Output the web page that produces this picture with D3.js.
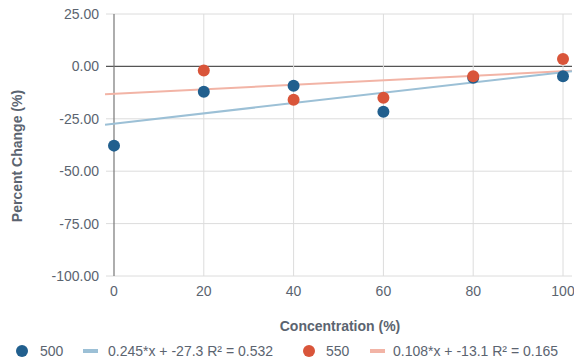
<!DOCTYPE html>
<html>
<head>
<meta charset="utf-8">
<script src="https://cdn.jsdelivr.net/npm/d3@7"></script>
<style>
  body { margin: 0; background: #fff; }
  text { font-family: "Liberation Sans", Arial, sans-serif; }
</style>
</head>
<body>
<div id="chart"></div>
<script>
// data
const concentrations = [0, 20, 40, 60, 80, 100];
const series500 = [-37.8, -12.1, -9.2, -21.6, -5.4, -4.7];
const concentrations550 = [20, 40, 60, 80, 100];
const series550 = [-1.9, -15.9, -15.0, -4.7, 3.5];
const trend500 = {slope: 0.245, intercept: -27.3, label: "0.245*x + -27.3 R\u00b2 = 0.532"};
const trend550 = {slope: 0.108, intercept: -13.1, label: "0.108*x + -13.1 R\u00b2 = 0.165"};
const yTicks = [25, 0, -25, -50, -75, -100];
const xTicks = [0, 20, 40, 60, 80, 100];

const width = 574, height = 362;
const blue = "#215f8e", red = "#d9553a";
const blueLight = "#9cc0d6", redLight = "#f2b4a6";
const textColor = "#5b6470";
const fontSize = "14px";

const svg = d3.select("#chart").append("svg")
  .attr("width", width)
  .attr("height", height);

const x = d3.scaleLinear().domain([0, 100]).range([114, 563]);
const y = d3.scaleLinear().domain([-100, 25]).range([276, 14]);

// horizontal grid
svg.append("g")
  .selectAll("line")
  .data(yTicks)
  .enter().append("line")
  .attr("x1", 106)
  .attr("x2", 572)
  .attr("y1", d => y(d))
  .attr("y2", d => y(d))
  .attr("stroke", d => d === 0 ? "#555" : "#dcdcdc")
  .attr("stroke-width", d => d === 0 ? 1.2 : 1);

// vertical grid
svg.append("g")
  .selectAll("line")
  .data(xTicks.filter(d => d !== 0))
  .enter().append("line")
  .attr("x1", d => x(d))
  .attr("x2", d => x(d))
  .attr("y1", y(25))
  .attr("y2", y(-100))
  .attr("stroke", "#dcdcdc");

// y axis line
svg.append("line")
  .attr("x1", x(0)).attr("x2", x(0))
  .attr("y1", y(25)).attr("y2", y(-100))
  .attr("stroke", "#777")
  .attr("stroke-width", 1.2);

// y tick labels (plain hyphen like the original)
svg.append("g")
  .selectAll("text")
  .data(yTicks)
  .enter().append("text")
  .attr("x", 99)
  .attr("y", d => y(d) + 5)
  .attr("text-anchor", "end")
  .style("font-size", fontSize)
  .style("fill", textColor)
  .text(d => d3.format(".2f")(d).replace("\u2212", "-"));

// x tick labels
svg.append("g")
  .selectAll("text")
  .data(xTicks)
  .enter().append("text")
  .attr("x", d => x(d))
  .attr("y", 296)
  .attr("text-anchor", "middle")
  .style("font-size", fontSize)
  .style("fill", textColor)
  .text(d => d);

// axis titles
svg.append("text")
  .attr("x", 340)
  .attr("y", 331)
  .attr("text-anchor", "middle")
  .style("font-size", fontSize)
  .style("font-weight", "bold")
  .style("fill", textColor)
  .text("Concentration (%)");

svg.append("text")
  .attr("transform", "translate(22,156) rotate(-90)")
  .attr("text-anchor", "middle")
  .style("font-size", fontSize)
  .style("font-weight", "bold")
  .style("fill", textColor)
  .text("Percent Change (%)");

// trend lines
function trendLine(t, color) {
  const xs = [-2, 102];
  svg.append("line")
    .attr("x1", x(xs[0]))
    .attr("y1", y(t.slope * xs[0] + t.intercept))
    .attr("x2", x(xs[1]))
    .attr("y2", y(t.slope * xs[1] + t.intercept))
    .attr("stroke", color)
    .attr("stroke-width", 2);
}
trendLine(trend550, redLight);
trendLine(trend500, blueLight);

// points
function points(xs, ys, color) {
  svg.append("g")
    .selectAll("circle")
    .data(xs.map((d, i) => [d, ys[i]]))
    .enter().append("circle")
    .attr("cx", d => x(d[0]))
    .attr("cy", d => y(d[1]))
    .attr("r", 6)
    .attr("fill", color);
}
points(concentrations, series500, blue);
points(concentrations550, series550, red);

// legend
const legendY = 351;
const legendItems = [
  {type: "dot", x: 22, color: blue, text: "500", tx: 40},
  {type: "line", x: 83, color: blueLight, text: trend500.label, tx: 108},
  {type: "dot", x: 309, color: red, text: "550", tx: 326},
  {type: "line", x: 370, color: redLight, text: trend550.label, tx: 393}
];
legendItems.forEach(d => {
  if (d.type === "dot") {
    svg.append("circle")
      .attr("cx", d.x).attr("cy", legendY).attr("r", 6)
      .attr("fill", d.color);
  } else {
    svg.append("line")
      .attr("x1", d.x).attr("x2", d.x + 15)
      .attr("y1", legendY).attr("y2", legendY)
      .attr("stroke", d.color)
      .attr("stroke-width", 4);
  }
  svg.append("text")
    .attr("x", d.tx)
    .attr("y", legendY + 5)
    .style("font-size", fontSize)
    .style("font-weight", "500")
    .style("fill", textColor)
    .text(d.text);
});
</script>
</body>
</html>
